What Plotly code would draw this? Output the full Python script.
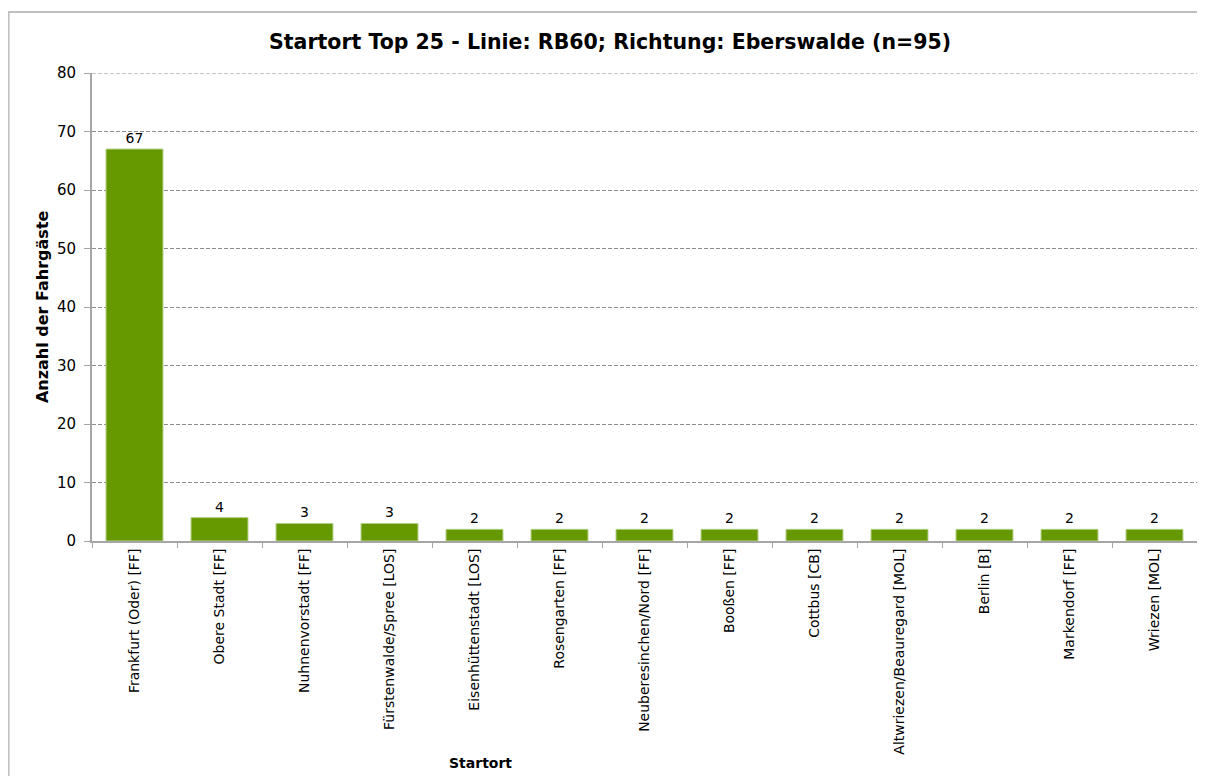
import plotly.graph_objects as go

startorte = [
    "Frankfurt (Oder) [FF]",
    "Obere Stadt [FF]",
    "Nuhnenvorstadt [FF]",
    "Fürstenwalde/Spree [LOS]",
    "Eisenhüttenstadt [LOS]",
    "Rosengarten [FF]",
    "Neuberesinchen/Nord [FF]",
    "Booßen [FF]",
    "Cottbus [CB]",
    "Altwriezen/Beauregard [MOL]",
    "Berlin [B]",
    "Markendorf [FF]",
    "Wriezen [MOL]",
]
fahrgaeste = [67, 4, 3, 3, 2, 2, 2, 2, 2, 2, 2, 2, 2]
y_ticks = [0, 10, 20, 30, 40, 50, 60, 70, 80]

FONT = "DejaVu Sans"
AXIS_GRAY = "#a6a6a6"
GRID_GRAY = "#8c8c8c"
GRID_DASH = "4px,2px"

fig = go.Figure(
    go.Bar(
        x=startorte,
        y=fahrgaeste,
        marker=dict(color="#669900", line=dict(color="#b5cf8a", width=1)),
        text=fahrgaeste,
        textposition="outside",
        textfont=dict(family=FONT, size=14, color="black"),
        cliponaxis=False,
        hoverinfo="x+y",
    )
)

# page is shown with an 8px body margin, so the figure is 16px smaller
fig.update_layout(
    width=1189,
    height=768,
    margin=dict(l=84, r=0, t=65, b=235),
    paper_bgcolor="white",
    plot_bgcolor="white",
    showlegend=False,
    bargap=0.33,
    font=dict(family=FONT, size=14, color="black"),
)

fig.update_xaxes(
    type="category",
    tickangle=-90,
    tickfont=dict(family=FONT, size=14, color="black"),
    showline=True,
    linecolor=AXIS_GRAY,
    linewidth=2,
    ticks="outside",
    tickson="boundaries",
    ticklen=5,
    tickcolor=AXIS_GRAY,
    showgrid=False,
)

fig.update_yaxes(
    range=[0, 80],
    tickvals=y_ticks,
    tickfont=dict(family=FONT, size=15, color="black"),
    ticklabelstandoff=5,
    showline=True,
    linecolor=AXIS_GRAY,
    linewidth=2,
    ticks="outside",
    ticklen=6,
    tickcolor=AXIS_GRAY,
    showgrid=True,
    gridcolor=GRID_GRAY,
    gridwidth=1,
    griddash=GRID_DASH,
    zeroline=False,
)

# plotly drops the grid line at the top edge, draw it by hand
fig.add_hline(y=y_ticks[-1], line=dict(color=GRID_GRAY, width=1, dash=GRID_DASH))

# outer chart frame
fig.add_shape(
    type="rect", xref="paper", yref="paper",
    x0=-0.0755, x1=1.05, y0=-0.7, y1=1.1303,
    line=dict(color="#c0c0c0", width=2), layer="below",
)

fig.add_annotation(
    text="<b>Startort Top 25 - Linie: RB60; Richtung: Eberswalde (n=95)</b>",
    xref="paper", yref="paper", x=0.4688, y=1.066,
    xanchor="center", yanchor="middle",
    showarrow=False, font=dict(family=FONT, size=20.5, color="black"),
)
fig.add_annotation(
    text="<b>Anzahl der Fahrgäste</b>",
    xref="paper", yref="paper", x=-0.0452, y=0.5, textangle=-90,
    xanchor="center", yanchor="middle",
    showarrow=False, font=dict(family=FONT, size=16, color="black"),
)
fig.add_annotation(
    text="<b>Startort</b>",
    xref="paper", yref="paper", x=0.352, y=-0.474,
    xanchor="center", yanchor="middle",
    showarrow=False, font=dict(family=FONT, size=14, color="black"),
)

fig.write_html("out.html")
